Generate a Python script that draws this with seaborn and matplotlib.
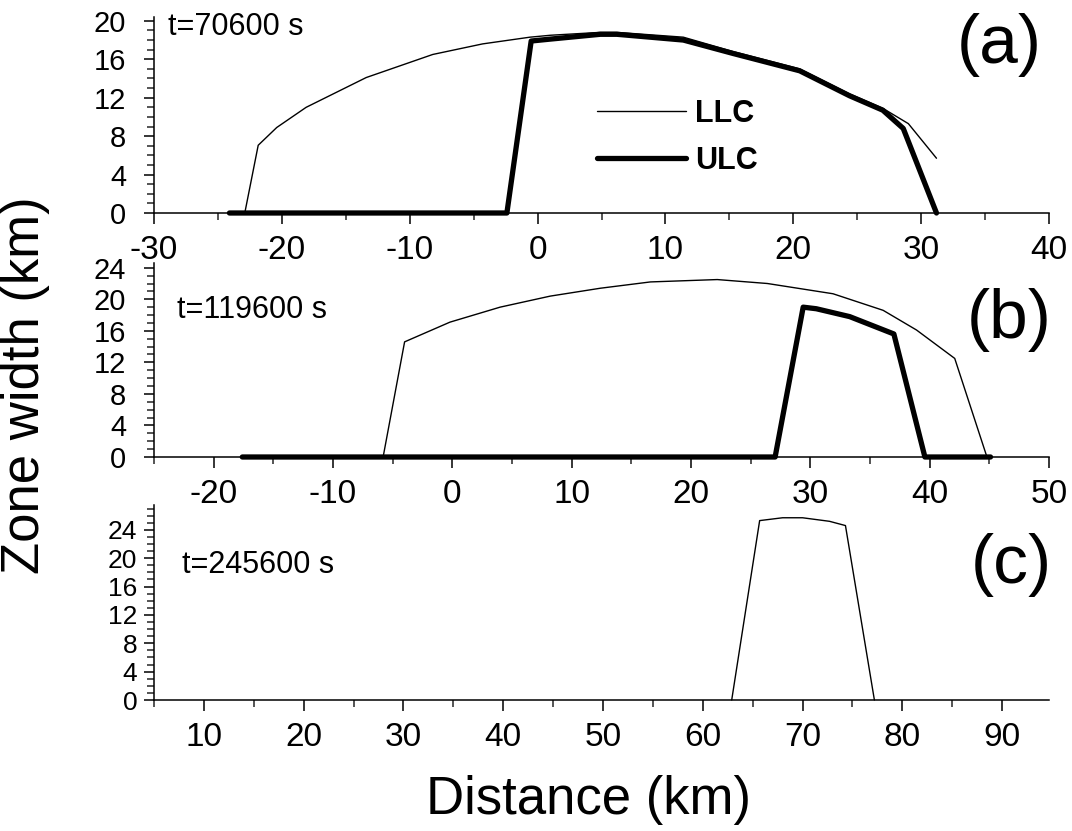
import pandas as pd
import seaborn as sns
import matplotlib.pyplot as plt
from matplotlib.ticker import MultipleLocator

# data (km)
a_llc_x = [-22.9, -21.85, -20.4, -18.1, -13.4, -8.2, -4.3, -0.6, 1.0, 4.9, 6.2, 11.4, 15.3, 20.5, 24.4, 27.0, 29.0, 31.2]
a_llc_y = [0, 7.05, 8.9, 11.0, 14.1, 16.5, 17.6, 18.3, 18.5, 18.8, 18.8, 18.3, 16.8, 15.0, 12.4, 10.9, 9.3, 5.7]
a_ulc_x = [-24.1, -2.4, -0.5, 1.0, 4.9, 6.2, 11.4, 15.3, 20.5, 24.4, 27.0, 28.6, 31.2]
a_ulc_y = [0, 0, 17.9, 18.1, 18.6, 18.6, 18.0, 16.6, 14.8, 12.2, 10.7, 8.8, 0]

b_llc_x = [-5.8, -4.0, -0.2, 4.0, 8.2, 12.4, 16.6, 22.2, 26.4, 31.9, 36.1, 38.9, 42.1, 44.8]
b_llc_y = [0, 14.6, 17.1, 19.0, 20.4, 21.4, 22.2, 22.5, 22.0, 20.7, 18.6, 16.1, 12.5, 0]
b_ulc_x = [-17.6, 27.05, 29.4, 30.5, 33.3, 37.0, 39.6, 45.1]
b_ulc_y = [0, 0, 19.0, 18.8, 17.8, 15.6, 0, 0]

c_llc_x = [62.9, 65.7, 68.0, 70.0, 72.7, 74.3, 77.2]
c_llc_y = [0, 25.3, 25.7, 25.7, 25.2, 24.6, 0]

times = ['t=70600 s', 't=119600 s', 't=245600 s']
tags = ['(a)', '(b)', '(c)']


def long_df(llc_x, llc_y, ulc_x=None, ulc_y=None):
    parts = [pd.DataFrame({'Distance': llc_x, 'Width': llc_y, 'Layer': 'LLC'})]
    if ulc_x is not None:
        parts.append(pd.DataFrame({'Distance': ulc_x, 'Width': ulc_y, 'Layer': 'ULC'}))
    return pd.concat(parts, ignore_index=True)


frames = [long_df(a_llc_x, a_llc_y, a_ulc_x, a_ulc_y),
          long_df(b_llc_x, b_llc_y, b_ulc_x, b_ulc_y),
          long_df(c_llc_x, c_llc_y)]

sns.set_theme(style='ticks')
plt.rcParams['font.family'] = ['Liberation Sans', 'DejaVu Sans']
plt.rcParams['axes.unicode_minus'] = False
plt.rcParams['text.color'] = 'black'

fig = plt.figure(figsize=(10.72, 8.31), dpi=100)
L, W = 154 / 1072, 895 / 1072
boxes = [(1 - 213 / 831, 196 / 831), (1 - 457 / 831, 194 / 831), (1 - 700 / 831, 195 / 831)]
xlims = [(-30, 40), (-25, 50), (5, 94.7)]
ylims = [(0, 20.4), (0, 24.6), (0, 27.5)]
ylab_size = [21, 21, 19]
ylab_pad = [13, 13, 5]
time_pos = [(0.016, 0.95), (0.026, 0.758), (0.031, 0.69)]
tag_pos = [(0.992, 0.857), (1.003, 0.706), (1.003, 0.69)]

pal = {'LLC': 'black', 'ULC': 'black'}
lw = {'LLC': 1.0, 'ULC': 3.8}

for i, df in enumerate(frames):
    ax = fig.add_axes([L, boxes[i][0], W, boxes[i][1]])
    sns.lineplot(data=df, x='Distance', y='Width', hue='Layer', size='Layer',
                 palette=pal, sizes=lw, estimator=None, sort=False,
                 legend=(i == 0), ax=ax)
    for ln in ax.lines:
        ln.set_clip_on(False)
        ln.set_zorder(5)
    ax.set_xlim(*xlims[i])
    ax.set_ylim(*ylims[i])
    ax.xaxis.set_major_locator(MultipleLocator(10))
    ax.xaxis.set_minor_locator(MultipleLocator(5))
    ax.yaxis.set_major_locator(MultipleLocator(4))
    ax.yaxis.set_minor_locator(MultipleLocator(1))
    if i == 2:
        ax.set_xticks([10, 20, 30, 40, 50, 60, 70, 80, 90])
    ax.set_xlabel('')
    ax.set_ylabel('')
    sns.despine(ax=ax)
    for sp in ['left', 'bottom']:
        ax.spines[sp].set_linewidth(1.1)
        ax.spines[sp].set_color('black')
    ax.tick_params(axis='x', which='major', length=8, width=1.1, labelsize=24, pad=8, colors='black')
    ax.tick_params(axis='x', which='minor', length=5, width=1.1)
    ax.tick_params(axis='y', which='major', length=7, width=1.1, labelsize=ylab_size[i],
                   pad=ylab_pad[i], colors='black')
    ax.tick_params(axis='y', which='minor', length=5, width=1.1)
    ax.patch.set_alpha(0)
    ax.text(time_pos[i][0], time_pos[i][1], times[i], transform=ax.transAxes,
            fontsize=22, ha='left', va='center')
    ax.text(tag_pos[i][0], tag_pos[i][1], tags[i], transform=ax.transAxes,
            fontsize=50, ha='right', va='center')
    if i == 0:
        h, l = ax.get_legend_handles_labels()
        ax.legend(h, l, loc='upper left', bbox_to_anchor=((597 - 154) / 895, (213 - 99) / 196),
                  frameon=False, borderpad=0, borderaxespad=0, handlelength=2.9,
                  handletextpad=0.3, labelspacing=0.55,
                  prop={'weight': 'bold', 'size': 22})

fig.text(25 / 1072, 1 - 385 / 831, 'Zone width (km)', rotation=90, fontsize=38,
         ha='center', va='center')
fig.text(588 / 1072, 1 - 800 / 831, 'Distance (km)', fontsize=38, ha='center', va='center')

fig.savefig('out.png', dpi=100, facecolor='white')
